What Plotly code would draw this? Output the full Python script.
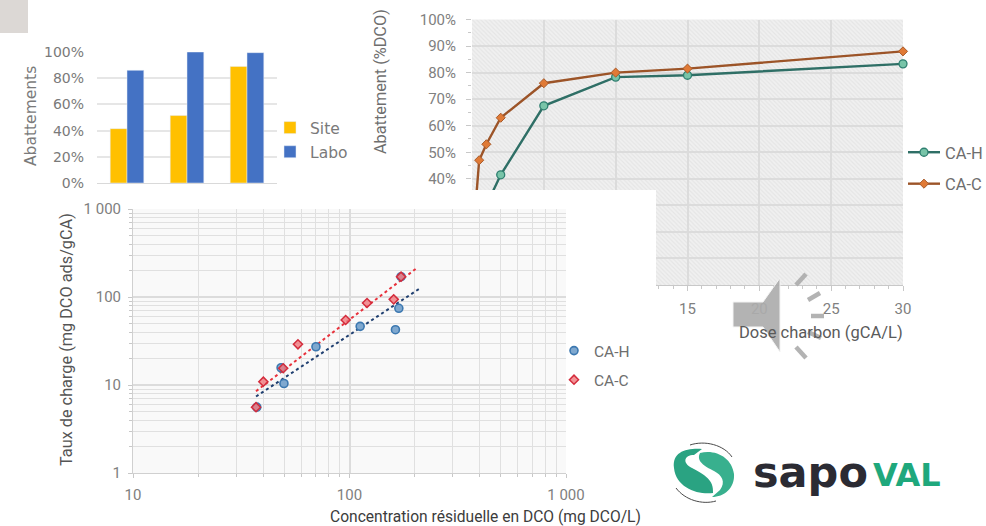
import plotly.graph_objects as go

W, H = 986, 526

# --- bar chart
bar_cats = ["A", "B", "C"]
site_vals = [0.415, 0.515, 0.89]
labo_vals = [0.86, 1.0, 0.995]

# --- isotherm dose curves
dose_h = [1, 2, 5, 10, 15, 30]
abat_h = [0.30, 0.415, 0.675, 0.783, 0.79, 0.833]
dose_c = [0.25, 0.5, 1, 2, 5, 10, 15, 30]
abat_c = [0.30, 0.47, 0.53, 0.63, 0.76, 0.80, 0.815, 0.88]

# --- log chart
conc_h = [37.3, 49.8, 48.3, 70, 112, 169, 163, 173]
load_h = [5.6, 10.4, 15.7, 27.2, 46.4, 74.4, 42.5, 170]
conc_c = [37, 40, 49.4, 57.8, 96, 120.5, 160, 173]
load_c = [5.6, 10.9, 15.5, 29, 54.8, 85.5, 94, 170]
trend_h_x = [37, 209]
trend_h_y = [7.4, 123]
trend_c_x = [37, 204]
trend_c_y = [8.5, 212]


def dx(a, b):
    return [a / W, b / W]


def dy(top, bottom):
    return [1 - bottom / H, 1 - top / H]


def px(x):
    return x / W


def py(y):
    return 1 - y / H


def path(points, close=True):
    s = "M" + " L".join(f"{px(x):.5f},{py(y):.5f}" for x, y in points)
    return s + (" Z" if close else "")


def curve(cmds):
    out = []
    for c in cmds:
        if isinstance(c, str):
            out.append(c)
        else:
            out.append(f"{px(c[0]):.5f},{py(c[1]):.5f}")
    return " ".join(out)


fig = go.Figure()
GRID = "#e6e6e6"

# bars
fig.add_bar(x=bar_cats, y=site_vals, name="Site", marker_color="#FFC000", legend="legend",
            legendgroup="s", xaxis="x", yaxis="y")
fig.add_bar(x=bar_cats, y=labo_vals, name="Labo", marker_color="#4472C4", legend="legend",
            legendgroup="l", xaxis="x", yaxis="y")

# hatched plot background of the dose chart
fig.add_bar(x=[15], y=[1], width=[30], xaxis="x2", yaxis="y2", showlegend=False, hoverinfo="skip",
            marker=dict(color="rgba(0,0,0,0)", line_width=0,
                        pattern=dict(shape="\\", fgcolor="#dadada", bgcolor="rgba(0,0,0,0)",
                                     size=3, solidity=0.4)))

# dose curves
fig.add_scatter(x=dose_h, y=abat_h, name="CA-H", mode="lines+markers", xaxis="x2", yaxis="y2",
                legend="legend2", legendgroup="h", cliponaxis=False,
                line=dict(color="#2f6f66", width=2.4),
                marker=dict(symbol="circle", size=8, color="#78c4a8", line=dict(color="#2f7f70", width=1.3)))
fig.add_scatter(x=dose_c, y=abat_c, name="CA-C", mode="lines+markers", xaxis="x2", yaxis="y2",
                legend="legend2", legendgroup="c", cliponaxis=False,
                line=dict(color="#9c5428", width=2.4),
                marker=dict(symbol="diamond", size=7, color="#e07a36", line=dict(color="#a85a2a", width=1)))

# panel axes (empty)
fig.add_scatter(x=[0], y=[0], mode="markers", marker=dict(opacity=0), showlegend=False,
                hoverinfo="skip", xaxis="x3", yaxis="y3")

# log chart
fig.add_scatter(x=trend_h_x, y=trend_h_y, mode="lines", xaxis="x4", yaxis="y4", showlegend=False,
                line=dict(color="#1f3f70", width=2, dash="dot"))
fig.add_scatter(x=trend_c_x, y=trend_c_y, mode="lines", xaxis="x4", yaxis="y4", showlegend=False,
                line=dict(color="#e8323c", width=2, dash="dot"))
fig.add_scatter(x=conc_h, y=load_h, name="CA-H", mode="markers", xaxis="x4", yaxis="y4",
                legend="legend3", legendgroup="h3",
                marker=dict(symbol="circle", size=8, color="#7fa8cf", line=dict(color="#3c78b0", width=1.6)))
fig.add_scatter(x=conc_c, y=load_c, name="CA-C", mode="markers", xaxis="x4", yaxis="y4",
                legend="legend3", legendgroup="c3",
                marker=dict(symbol="diamond", size=7, color="rgba(240,120,125,0.8)",
                            line=dict(color="#d42c3c", width=1.5)))

shapes = [
    dict(type="rect", xref="paper", yref="paper", x0=0, x1=px(28), y0=py(33), y1=1,
         fillcolor="#dcd8d5", line_width=0, layer="below"),
    dict(type="rect", xref="paper", yref="paper", x0=px(472), x1=px(903), y0=py(285), y1=py(19.5),
         fillcolor="#f0f0f0", line_width=0, layer="below"),
    dict(type="rect", xref="x3", yref="y3", x0=0, x1=1, y0=0, y1=1,
         fillcolor="white", line_width=0, layer="below"),
    dict(type="rect", xref="x4", yref="y4", x0=10, x1=1000, y0=1, y1=1000,
         fillcolor="#f9f9f9", line_width=0, layer="below"),
]

# speaker icon
SP = "#adadad"
shapes.append(dict(type="path", xref="paper", yref="paper", layer="above",
                   path=path([(733, 302), (763, 302), (780, 278), (780, 352), (763, 327), (733, 327)]),
                   fillcolor=SP, line=dict(color="#f4f4f4", width=1), opacity=0.92))
for a, b in [((796, 285), (806, 274)), ((808, 300), (820, 293)), ((811, 316), (824, 316)),
             ((808, 332), (821, 338)), ((796, 347), (806, 358))]:
    shapes.append(dict(type="line", xref="paper", yref="paper", layer="above",
                       x0=px(a[0]), y0=py(a[1]), x1=px(b[0]), y1=py(b[1]),
                       line=dict(color=SP, width=4.5), opacity=0.92))

# logo swirl
LG = "#2aa382"
shapes.append(dict(type="path", xref="paper", yref="paper", layer="above", line_width=0, fillcolor=LG,
                   path=curve(["M", (674, 468), "C", (672, 452), (686, 448), (702, 449),
                               "L", (694, 455), "C", (684, 455), (682, 463), (692, 468),
                               "C", (705, 475), (714, 480), (713, 493),
                               "C", (698, 495), (676, 488), (674, 468), "Z"])))
shapes.append(dict(type="path", xref="paper", yref="paper", layer="above", line_width=0, fillcolor="#38b08e",
                   path=curve(["M", (700, 453), "C", (716, 449), (732, 458), (734, 474),
                               "C", (735, 488), (724, 497), (712, 497),
                               "L", (720, 490), "C", (726, 482), (722, 475), (714, 471),
                               "C", (704, 466), (696, 461), (700, 453), "Z"])))
shapes.append(dict(type="path", xref="paper", yref="paper", layer="above", fillcolor="rgba(0,0,0,0)",
                   line=dict(color="#4a4a4a", width=1),
                   path=curve(["M", (690, 445), "C", (705, 440), (724, 445), (732, 457)])))
shapes.append(dict(type="path", xref="paper", yref="paper", layer="above", fillcolor="rgba(0,0,0,0)",
                   line=dict(color="#4a4a4a", width=1),
                   path=curve(["M", (676, 488), "C", (685, 500), (702, 505), (716, 501)])))


def note(text, x, y, size, color, family="Roboto", angle=0, anchor="center", **kw):
    return dict(text=text, x=px(x), y=py(y), xref="paper", yref="paper", showarrow=False,
                font=dict(size=size, color=color, family=family), textangle=angle,
                xanchor=anchor, yanchor="middle", **kw)


annotations = [
    note("Abattements", 31, 116, 15.5, "#7a7a7a", "DejaVu Sans", -90),
    note("Abattement (%DCO)", 380, 82, 16.3, "#6e6e6e", "Roboto", -90),
    note("Dose charbon (gCA/L)", 821, 332, 16.5, "#5a5a5a"),
    note("Taux de charge (mg DCO ads/gCA)", 66, 340, 16.3, "#555555", "Roboto", -90),
    note("Concentration résiduelle en DCO (mg DCO/L)", 485, 517, 15.6, "#3c3c3c"),
    note("<b>sapo</b>", 751, 472, 43, "#2b2b33", "DejaVu Sans", anchor="left"),
    note("<b>VAL</b>", 871, 475, 32, "#1fa87c", "DejaVu Sans", anchor="left"),
]

font_r = dict(family="Roboto", size=15, color="#808080")

fig.update_layout(
    width=W, height=H, autosize=False, margin=dict(l=0, r=0, t=0, b=0, autoexpand=False),
    paper_bgcolor="white", plot_bgcolor="rgba(0,0,0,0)", separators=". ",
    barmode="group", bargap=0.44, bargroupgap=0,
    shapes=shapes, annotations=annotations,
    font=dict(family="Roboto", color="#808080"),
    xaxis=dict(domain=dx(97, 277), showticklabels=False, ticks="", showgrid=False,
               showline=True, linecolor="#d9d9d9", anchor="y", automargin=False),
    yaxis=dict(domain=dy(52, 183), range=[0, 1], dtick=0.2, tickformat=".0%", anchor="x",
               gridcolor=GRID, gridwidth=1.5, zeroline=False, showline=False, ticks="", automargin=False,
               ticklabelstandoff=12, tickfont=dict(family="DejaVu Sans", size=14, color="#7a7a7a")),
    xaxis2=dict(domain=dx(472, 903), range=[0, 30], dtick=5, anchor="y2", gridcolor="#dcdcdc", gridwidth=1.6,
                ticks="outside", ticklen=5, tickcolor="#c8c8c8", showline=True, linecolor="#c8c8c8",
                zeroline=False, tickfont=font_r, automargin=False, ticklabelstandoff=5,
                minor=dict(dtick=1, ticks="outside", ticklen=3, tickcolor="#c8c8c8", showgrid=False)),
    yaxis2=dict(domain=dy(19.5, 285), range=[0, 1], dtick=0.1, tickformat=".0%", anchor="x2",
                gridcolor="#dcdcdc", gridwidth=1.6, ticks="outside", ticklen=5, tickcolor="#c8c8c8",
                zeroline=False, showline=False, tickfont=font_r, automargin=False, ticklabelstandoff=7,
                minor=dict(dtick=0.05, ticks="outside", ticklen=3, tickcolor="#c8c8c8", showgrid=False)),
    xaxis3=dict(domain=dx(0, 656), range=[0, 1], visible=False, anchor="y3"),
    yaxis3=dict(domain=dy(190, 526), range=[0, 1], visible=False, anchor="x3"),
    xaxis4=dict(domain=dx(133, 566), type="log", range=[1, 3], dtick=1, tickformat=",d", anchor="y4",
                gridcolor="#dcdcdc", gridwidth=1.6, ticks="outside", ticklen=4, tickcolor="#c8c8c8",
                zeroline=False, showline=True, linecolor="#d0d0d0", tickfont=font_r, automargin=False,
                ticklabelstandoff=4,
                minor=dict(dtick="D1", showgrid=True, gridcolor="#e0e0e0", gridwidth=1.4,
                           ticks="outside", ticklen=3, tickcolor="#c8c8c8")),
    yaxis4=dict(domain=dy(209, 473), type="log", range=[0, 3], dtick=1, tickformat=",d", anchor="x4",
                gridcolor="#dcdcdc", gridwidth=1.6, ticks="outside", ticklen=4, tickcolor="#c8c8c8",
                zeroline=False, showline=True, linecolor="#d0d0d0", tickfont=font_r, automargin=False,
                ticklabelstandoff=4,
                minor=dict(dtick="D1", showgrid=True, gridcolor="#e0e0e0", gridwidth=1.4,
                           ticks="outside", ticklen=3, tickcolor="#c8c8c8")),
    legend=dict(x=px(270), y=py(111), xanchor="left", yanchor="top", bgcolor="rgba(0,0,0,0)",
                font=dict(family="DejaVu Sans", size=15.5, color="#7a7a7a"), tracegroupgap=1,
                itemwidth=30, traceorder="grouped"),
    legend2=dict(x=px(903), y=py(135), xanchor="left", yanchor="top", bgcolor="rgba(0,0,0,0)",
                 font=dict(family="Roboto", size=16.5, color="#6e6e6e"), tracegroupgap=7,
                 itemwidth=32, traceorder="grouped"),
    legend3=dict(x=px(554), y=py(334), xanchor="left", yanchor="top", bgcolor="rgba(0,0,0,0)",
                 font=dict(family="Roboto", size=15.5, color="#6e6e6e"), tracegroupgap=6,
                 itemwidth=30, traceorder="grouped"),
)

fig.write_html("out.html", config={"displayModeBar": False},
               post_script="document.body.style.margin='0';document.body.style.overflow='hidden';")
